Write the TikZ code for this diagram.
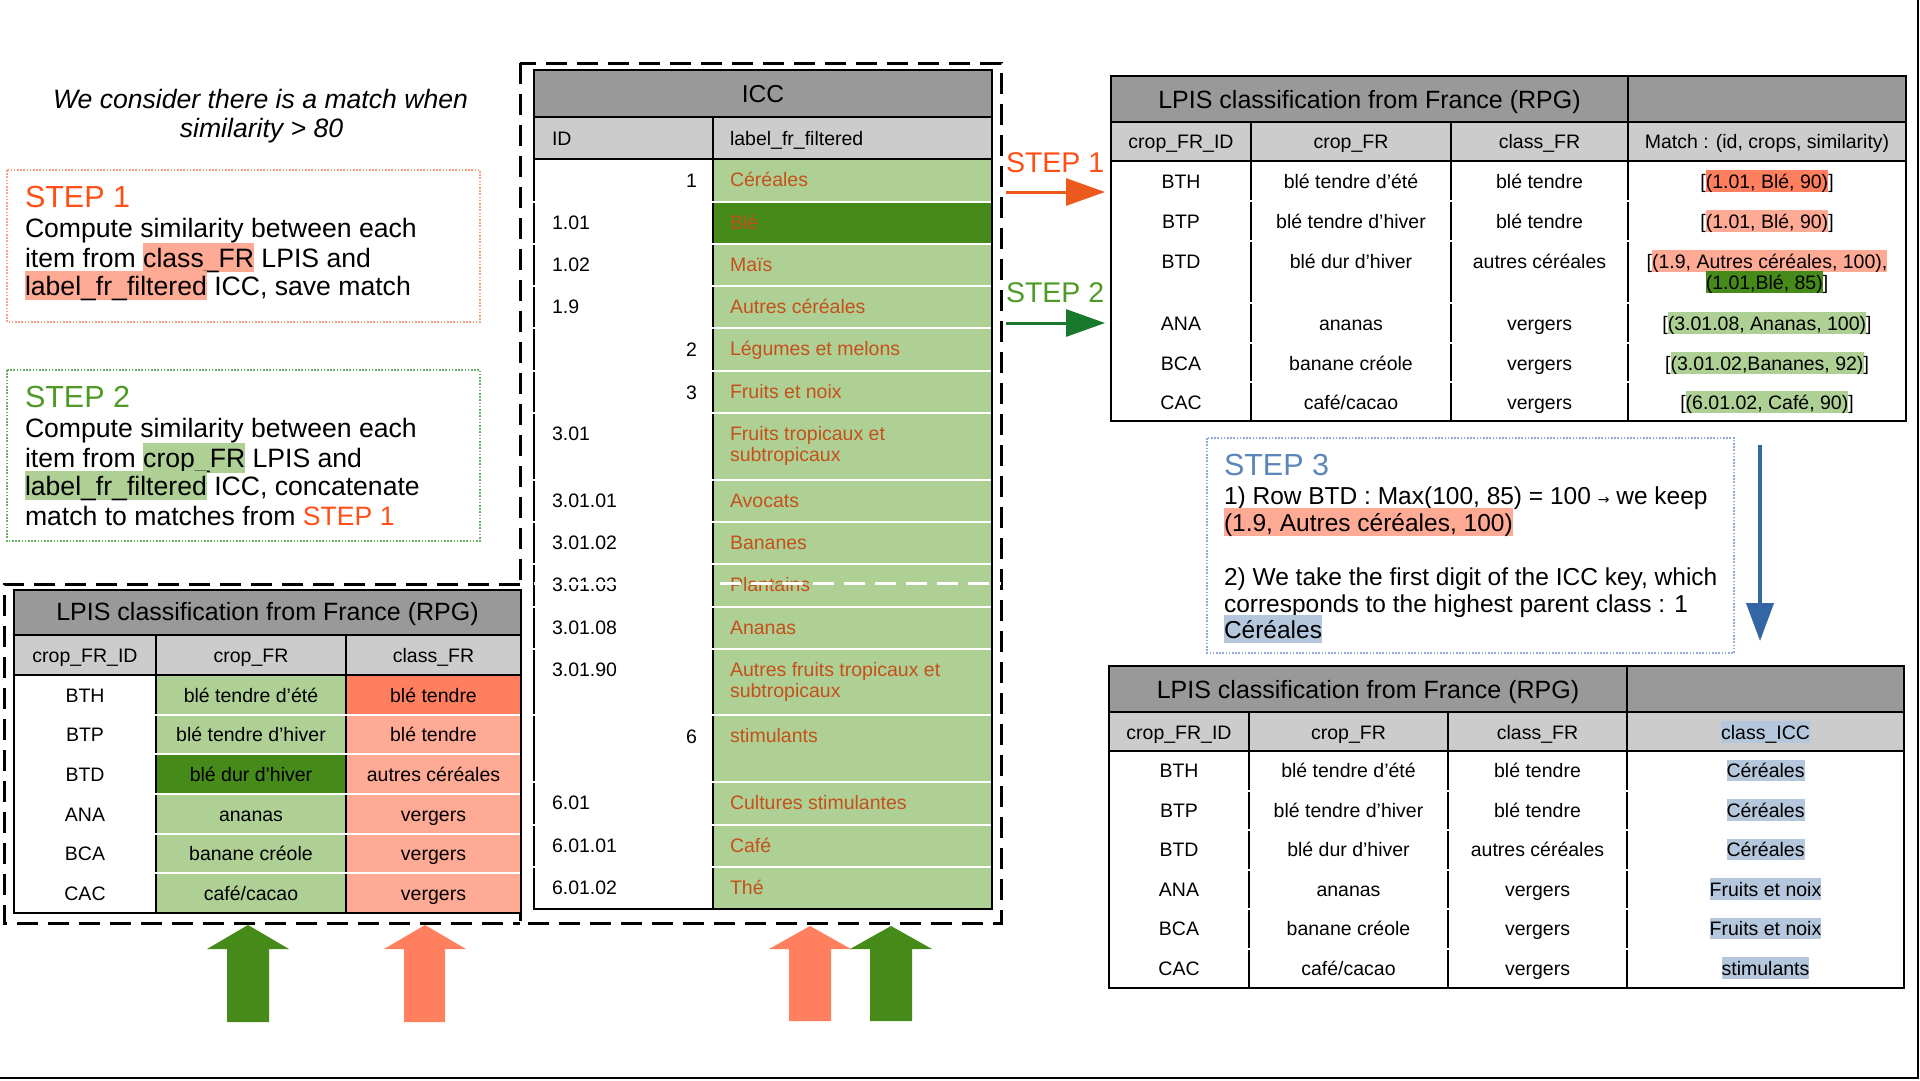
\documentclass[tikz,border=0pt]{standalone}
\usepackage{fontspec}
\setmainfont{Liberation Sans}
\newfontfamily\djv{DejaVu Sans}
\usetikzlibrary{arrows.meta}
\definecolor{hdr}{HTML}{999999}
\definecolor{subh}{HTML}{CCCCCC}
\definecolor{lgreen}{HTML}{AFD095}
\definecolor{dgreen}{HTML}{468A1A}
\definecolor{lsalmon}{HTML}{FFAA95}
\definecolor{dsalmon}{HTML}{FF7F5F}
\definecolor{lblue}{HTML}{B4C7DC}
\definecolor{iccbrown}{HTML}{C5501A}
\definecolor{steporange}{HTML}{FF4F17}
\definecolor{stepgreen}{HTML}{4E9A26}
\definecolor{stepblue}{HTML}{5B86BA}
\definecolor{arrorange}{HTML}{EE5A1E}
\definecolor{arrgreen}{HTML}{18782C}
\definecolor{arrblue}{HTML}{3465A4}
\definecolor{dotorange}{HTML}{FF9F7F}
\definecolor{dotgreen}{HTML}{6AAE6A}
\definecolor{dotblue}{HTML}{8FAAD6}
\newcommand\fz[1]{\fontsize{#1}{#1}\selectfont}
\newcommand\hlx[2]{{\setlength{\fboxsep}{0pt}\colorbox{#1}{\rule[-0.2em]{0pt}{1.12em}#2}}}
\newcommand\cc{café/cacao}
\begin{document}
\begin{tikzpicture}[x=1pt,y=-1pt,
  every node/.style={inner sep=0pt,outer sep=0pt},
  tx/.style={font=\fz{19.5},anchor=base},
  tl/.style={font=\fz{19.5},anchor=base west},
  trt/.style={font=\fz{19.5},anchor=base east},
  ttl/.style={font=\fz{25},anchor=base},
  body/.style={font=\fz{26.6},anchor=base west},
  bodyc/.style={font=\fz{24.5},anchor=base west},
  bigstep/.style={font=\fz{30.5},anchor=base west},
  tbl/.style={draw=black,line width=2pt},
  sep/.style={draw=white,line width=2pt},
  dframe/.style={draw=black,line width=3pt,dash pattern=on 21pt off 10pt},
  dotbox/.style={line width=1.5pt,dash pattern=on 1.6pt off 1.6pt}]
\useasboundingbox (0,0) rectangle (1920,1080);
\fill[white] (0,0) rectangle (1920,1080);
\draw[line width=1.5pt] (1918,0) -- (1918,1078) -- (0,1078);

% ---------- top-left text ----------
\node[font=\itshape\fz{26.6},anchor=base] (cons1) at (260.5,108) {We consider there is a match when};
\node[font=\itshape\fz{26.6},anchor=base] (cons2) at (261.5,137) {similarity > 80};

% STEP 1 box
\draw[dotbox,draw=dotorange] (7,170) rectangle (480,322);
\node[bigstep,text=steporange] (s1t) at (25,207) {STEP 1};
\node[body] (s1a) at (25,237) {Compute similarity between each};
\node[body] (s1b) at (25,267) {item from \hlx{lsalmon}{class\_FR} LPIS and};
\node[body] (s1c) at (25,295) {\hlx{lsalmon}{label\_fr\_filtered} ICC, save match};

% STEP 2 box
\draw[dotbox,draw=dotgreen] (7,370) rectangle (480,541);
\node[bigstep,text=stepgreen] (s2t) at (25,407) {STEP 2};
\node[body] (s2a) at (25,437) {Compute similarity between each};
\node[body] (s2b) at (25,467) {item from \hlx{lgreen}{crop\_FR} LPIS and};
\node[body] (s2c) at (25,495) {\hlx{lgreen}{label\_fr\_filtered} ICC, concatenate};
\node[body] (s2d) at (25,525) {match to matches from {\color{steporange}STEP 1}};

% ---------- dashed frames ----------
\draw[dframe] (520,63) rectangle (1001,923);
\draw[dframe] (520,584) -- (4,584) -- (4,923) -- (520,923);

% ---------- ICC table ----------
\fill[hdr] (534,70) rectangle (992,117);
\fill[subh] (534,117) rectangle (992,159);
\fill[white] (534,159) rectangle (713,909);
\fill[lgreen] (713,159) rectangle (992,909);
\fill[dgreen] (713,202) rectangle (992,244);
\draw[tbl] (534,70) rectangle (992,909);
\draw[tbl] (534,117) -- (992,117);
\draw[tbl] (534,159) -- (992,159);
\draw[tbl] (713,117) -- (713,909);
\foreach \y in {202,244,286,328,371,413,480,522,564,607,649,715,782,825,867}
  \draw[sep] (532,\y) -- (991,\y);
\node[ttl,font=\fz{24.5}] (icctitle) at (763,102) {ICC};
\node[tl] (iccid) at (552,145) {ID};
\node[tl] (icclab) at (730,145) {label\_fr\_filtered};
\foreach \t/\id [count=\i] in {202/1.01,244/1.02,286/1.9,413/3.01,480/3.01.01,522/3.01.02,564/3.01.03,607/3.01.08,649/3.01.90,782/6.01,825/6.01.01,867/6.01.02}
  \node[tl] (idl\i) at (552,\t+27) {\id};
\foreach \t/\id [count=\i] in {159/1,328/2,371/3,715/6}
  \node[trt] (idr\i) at (697,\t+28) {\id};
\foreach \t/\lab [count=\i] in {159/Céréales,202/Blé,244/Maïs,286/Autres céréales,328/Légumes et melons,371/Fruits et noix,413/Fruits tropicaux et,480/Avocats,522/Bananes,564/Plantains,607/Ananas,649/Autres fruits tropicaux et,715/stimulants,782/Cultures stimulantes,825/Café,867/Thé}
  \node[tl,text=iccbrown] (icl\i) at (730,\t+27) {\lab};
\node[tl,text=iccbrown] (iclx1) at (730,461) {subtropicaux};
\node[tl,text=iccbrown] (iclx2) at (730,697) {subtropicaux};
\draw[dframe,draw=white] (534,583) -- (1001,583);

% ---------- bottom-left table ----------
\fill[hdr] (14,590) rectangle (521,635);
\fill[subh] (14,635) rectangle (521,675);
\fill[white] (14,675) rectangle (156,913);
\fill[lgreen] (156,675) rectangle (346,913);
\fill[dgreen] (156,754.3) rectangle (346,794);
\fill[lsalmon] (346,675) rectangle (521,913);
\fill[dsalmon] (346,675) rectangle (521,714.7);
\draw[tbl] (14,590) rectangle (521,913);
\draw[tbl] (14,635) -- (521,635);
\draw[tbl] (14,675) -- (521,675);
\foreach \x in {156,346} \draw[tbl] (\x,635) -- (\x,913);
\foreach \y in {714.7,754.3,794,833.7,873.3} \draw[sep] (15,\y) -- (520,\y);
\node[ttl] (t3title) at (267.5,620) {LPIS classification from France (RPG)};
\node[tx] (t3h1) at (85,662) {crop\_FR\_ID};
\node[tx] (t3h2) at (251,662) {crop\_FR};
\node[tx] (t3h3) at (433.5,662) {class\_FR};
\foreach \yb/\id/\crop/\cls [count=\i] in {702/BTH/blé tendre d’été/blé tendre,741.7/BTP/blé tendre d’hiver/blé tendre,781.3/BTD/blé dur d’hiver/autres céréales,821/ANA/ananas/vergers,860.7/BCA/banane créole/vergers,900.3/CAC/\cc/vergers}{
  \node[tx] (t3a\i) at (85,\yb) {\id};
  \node[tx] (t3b\i) at (251,\yb) {\crop};
  \node[tx] (t3c\i) at (433.5,\yb) {\cls};
}

% ---------- block arrows ----------
\fill[dgreen] (248,925) -- (289,949) -- (269,949) -- (269,1022) -- (227,1022) -- (227,949) -- (207,949) -- cycle;
\fill[dsalmon] (425,925) -- (466,949) -- (445,949) -- (445,1022) -- (404,1022) -- (404,949) -- (384,949) -- cycle;
\fill[dsalmon] (810,926) -- (851,949) -- (831,949) -- (831,1021) -- (789,1021) -- (789,949) -- (769,949) -- cycle;
\fill[dgreen] (891,926) -- (932,949) -- (912,949) -- (912,1021) -- (870,1021) -- (870,949) -- (850,949) -- cycle;

% ---------- STEP 1 / STEP 2 arrows on the right ----------
\node[font=\fz{28.5},text=steporange,anchor=base west] (rs1) at (1006,172) {STEP 1};
\node[font=\fz{28.5},text=stepgreen,anchor=base west] (rs2) at (1006,302) {STEP 2};
\coordinate (a1s) at (1006,192);
\coordinate (a1e) at (1105,192);
\coordinate (a2s) at (1006,323);
\coordinate (a2e) at (1105,323);
\draw[arrorange,line width=3pt,-{Triangle[length=39pt,width=27pt]}] (a1s) -- (a1e);
\draw[arrgreen,line width=3pt,-{Triangle[length=39pt,width=27pt]}] (a2s) -- (a2e);

% ---------- top-right table ----------
\fill[hdr] (1111,76) rectangle (1906,122);
\fill[subh] (1111,122) rectangle (1906,161);
\draw[tbl] (1111,76) rectangle (1906,421);
\draw[tbl] (1111,122) -- (1906,122);
\draw[tbl] (1111,161) -- (1906,161);
\draw[tbl] (1628,76) -- (1628,421);
\foreach \x in {1251,1451} \draw[tbl] (\x,122) -- (\x,421);
\foreach \y in {201,241,303,343,382} \draw[sep] (1112,\y) -- (1905,\y);
\node[ttl] (t1title) at (1369.5,108) {LPIS classification from France (RPG)};
\node[tx] (t1h1) at (1181,148) {crop\_FR\_ID};
\node[tx] (t1h2) at (1351,148) {crop\_FR};
\node[tx] (t1h3) at (1539.5,148) {class\_FR};
\node[tx] (t1h4) at (1767,148) {Match : (id, crops, similarity)};
\foreach \yb/\id/\crop/\cls [count=\i] in {188/BTH/blé tendre d’été/blé tendre,228/BTP/blé tendre d’hiver/blé tendre,268/BTD/blé dur d’hiver/autres céréales,330/ANA/ananas/vergers,370/BCA/banane créole/vergers,409/CAC/\cc/vergers}{
  \node[tx] (t1a\i) at (1181,\yb) {\id};
  \node[tx] (t1b\i) at (1351,\yb) {\crop};
  \node[tx] (t1c\i) at (1539.5,\yb) {\cls};
}
\node[tx] (t1m1) at (1767,188) {[\hlx{dsalmon}{(1.01, Blé, 90)}]};
\node[tx] (t1m2) at (1767,228) {[\hlx{lsalmon}{(1.01, Blé, 90)}]};
\node[tx] (t1m3) at (1767,268) {[\hlx{lsalmon}{(1.9, Autres céréales, 100),}};
\node[tx] (t1m3b) at (1767,289) {\hlx{dgreen}{(1.01,Blé, 85)}]};
\node[tx] (t1m4) at (1767,330) {[\hlx{lgreen}{(3.01.08, Ananas, 100)}]};
\node[tx] (t1m5) at (1767,370) {[\hlx{lgreen}{(3.01.02,Bananes, 92)}]};
\node[tx] (t1m6) at (1767,409) {[\hlx{lgreen}{(6.01.02, Café, 90)}]};

% ---------- STEP 3 ----------
\draw[dotbox,draw=dotblue] (1207,438) rectangle (1734,653);
\node[bigstep,text=stepblue] (s3t) at (1224,475) {STEP 3};
\node[bodyc] (s3a) at (1224,504) {1) Row BTD : Max(100, 85) = 100 {\djv\fz{14}→} we keep};
\node[bodyc] (s3b) at (1224,531) {\hlx{lsalmon}{(1.9, Autres céréales, 100)}};
\node[bodyc] (s3c) at (1224,585) {2) We take the first digit of the ICC key, which};
\node[bodyc] (s3d) at (1224,612) {corresponds to the highest parent class : 1};
\node[bodyc] (s3e) at (1224,638) {\hlx{lblue}{Céréales}};
\coordinate (b1) at (1760,445);
\coordinate (b2) at (1760,641);
\draw[arrblue,line width=4pt,-{Triangle[length=38pt,width=27pt]}] (b1) -- (b2);

% ---------- bottom-right table ----------
\fill[hdr] (1109,666) rectangle (1904,712);
\fill[subh] (1109,712) rectangle (1904,751);
\draw[tbl] (1109,666) rectangle (1904,988);
\draw[tbl] (1109,712) -- (1904,712);
\draw[tbl] (1109,751) -- (1904,751);
\draw[tbl] (1627,666) -- (1627,988);
\foreach \x in {1249,1448} \draw[tbl] (\x,712) -- (\x,988);
\foreach \y in {790.5,830,869.5,909,948.5} \draw[sep] (1110,\y) -- (1903,\y);
\node[ttl] (t2title) at (1368,698) {LPIS classification from France (RPG)};
\node[tx] (t2h1) at (1179,739) {crop\_FR\_ID};
\node[tx] (t2h2) at (1348.5,739) {crop\_FR};
\node[tx] (t2h3) at (1537.5,739) {class\_FR};
\node[tx] (t2h4) at (1765.5,739) {\hlx{lblue}{class\_ICC}};
\foreach \yb/\id/\crop/\cls/\icc [count=\i] in {777.5/BTH/blé tendre d’été/blé tendre/Céréales,817/BTP/blé tendre d’hiver/blé tendre/Céréales,856.5/BTD/blé dur d’hiver/autres céréales/Céréales,896/ANA/ananas/vergers/Fruits et noix,935.5/BCA/banane créole/vergers/Fruits et noix,975/CAC/\cc/vergers/stimulants}{
  \node[tx] (t2a\i) at (1179,\yb) {\id};
  \node[tx] (t2b\i) at (1348.5,\yb) {\crop};
  \node[tx] (t2c\i) at (1537.5,\yb) {\cls};
  \node[tx] (t2d\i) at (1765.5,\yb) {\hlx{lblue}{\icc}};
}
\end{tikzpicture}
\end{document}
